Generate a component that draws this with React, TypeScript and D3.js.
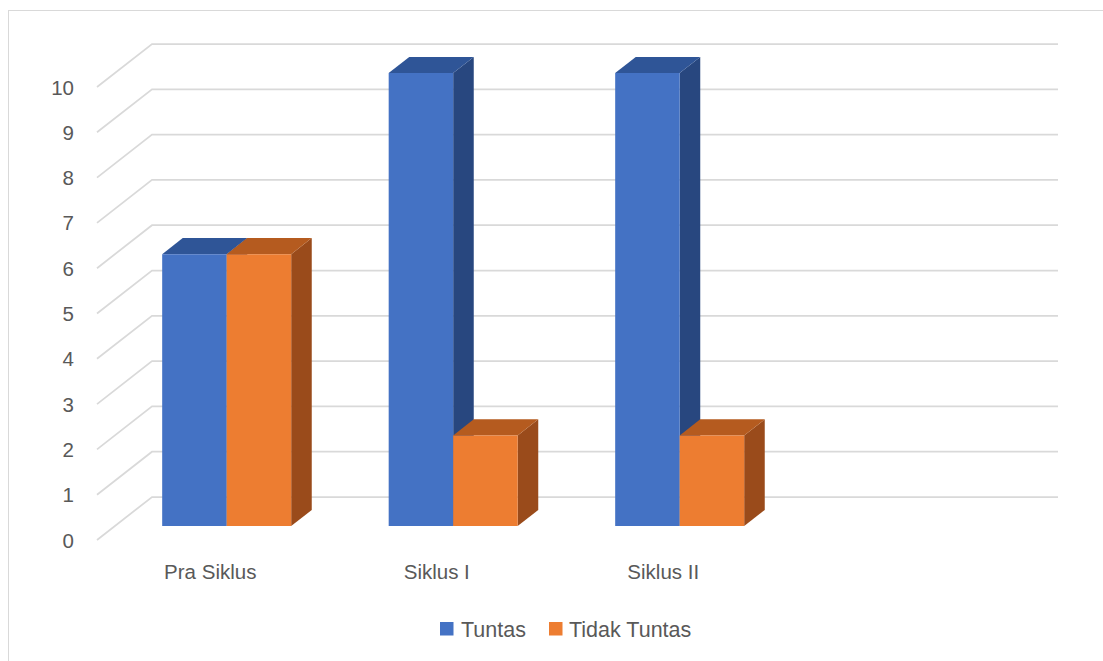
import React from "react";
import * as d3 from "d3";

const categories = ["Pra Siklus", "Siklus I", "Siklus II", ""];
const seriesNames = ["Tuntas", "Tidak Tuntas"];
const tuntas = [6, 10, 10];
const tidakTuntas = [6, 2, 2];
const yTicks = [0, 1, 2, 3, 4, 5, 6, 7, 8, 9, 10];

const W = 1103;
const H = 661;
const FONT = "'Liberation Sans', Arial, sans-serif";
const TEXT = "#595959";

const faceColors = [
  { front: "#4472C4", top: "#2F5597", side: "#28477F" },
  { front: "#ED7D31", top: "#B55B1F", side: "#9A4B1B" },
];

export default function App() {
  const x = d3.scaleBand<string>().domain(categories).range([0, 906]);
  const y = d3.scaleLinear().domain([0, 10]).range([0, 453]);
  // projection: plot-x, value, depth z (0 front .. 1 back wall)
  const ox = 97, oy = 540, ddx = 55, ddy = 43;
  const P = (px: number, v: number, z: number): [number, number] => [
    ox + px + ddx * z,
    oy - y(v) - ddy * z,
  ];
  const pts = (arr: [number, number][]) => arr.map((p) => p.join(",")).join(" ");

  const z0 = 0.326, z1 = 0.7;
  const barW = 64.5;
  const series = [tuntas, tidakTuntas];

  const bars: JSX.Element[] = [];
  categories.forEach((c, i) => {
    const center = (x(c) as number) + x.bandwidth() / 2 - 1.5;
    const left0 = center - barW * series.length / 2;
    series.forEach((s, si) => {
      const v = s[i];
      if (v === undefined) return;
      const l = left0 + si * barW;
      const r = l + barW;
      const col = faceColors[si];
      bars.push(
        <g key={`${i}-${si}`}>
          <polygon
            points={pts([P(r, 0, z0), P(r, 0, z1), P(r, v, z1), P(r, v, z0)])}
            fill={col.side}
          />
          <polygon
            points={pts([P(l, v, z0), P(l, v, z1), P(r, v, z1), P(r, v, z0)])}
            fill={col.top}
          />
          <polygon
            points={pts([P(l, 0, z0), P(r, 0, z0), P(r, v, z0), P(l, v, z0)])}
            fill={col.front}
          />
        </g>
      );
    });
  });

  return (
    <svg width={W} height={H} style={{ position: "absolute", left: 0, top: 0 }}>
      <rect x={0} y={0} width={W} height={H} fill="#fff" />
      <rect x={8.5} y={10.5} width={W + 20} height={H + 20} fill="none" stroke="#D9D9D9" strokeWidth={1} />
      {yTicks.map((t) => {
        const a = P(0, t, 0);
        const b = P(0, t, 1);
        const c = P(906, t, 1);
        return (
          <g key={t}>
            <polyline points={pts([a, b, c])} fill="none" stroke="#D9D9D9" strokeWidth={1.75} />
            <text
              x={a[0] - 23}
              y={a[1]}
              textAnchor="end"
              dominantBaseline="central"
              fontFamily={FONT}
              fontSize={20.5}
              fill={TEXT}
            >
              {t}
            </text>
          </g>
        );
      })}
      {bars}
      {categories.map((c) => {
        const p = P((x(c) as number) + x.bandwidth() / 2, 0, 0);
        return (
          <text
            key={c}
            x={p[0]}
            y={p[1] + 39}
            textAnchor="middle"
            fontFamily={FONT}
            fontSize={20.5}
            fill={TEXT}
          >
            {c}
          </text>
        );
      })}
      <g fontFamily={FONT} fontSize={21.5} fill={TEXT}>
        <rect x={440} y={622} width={13.5} height={13.5} fill={faceColors[0].front} />
        <text x={461} y={636.5}>{seriesNames[0]}</text>
        <rect x={549} y={622} width={13.5} height={13.5} fill={faceColors[1].front} />
        <text x={569} y={636.5}>{seriesNames[1]}</text>
      </g>
    </svg>
  );
}
